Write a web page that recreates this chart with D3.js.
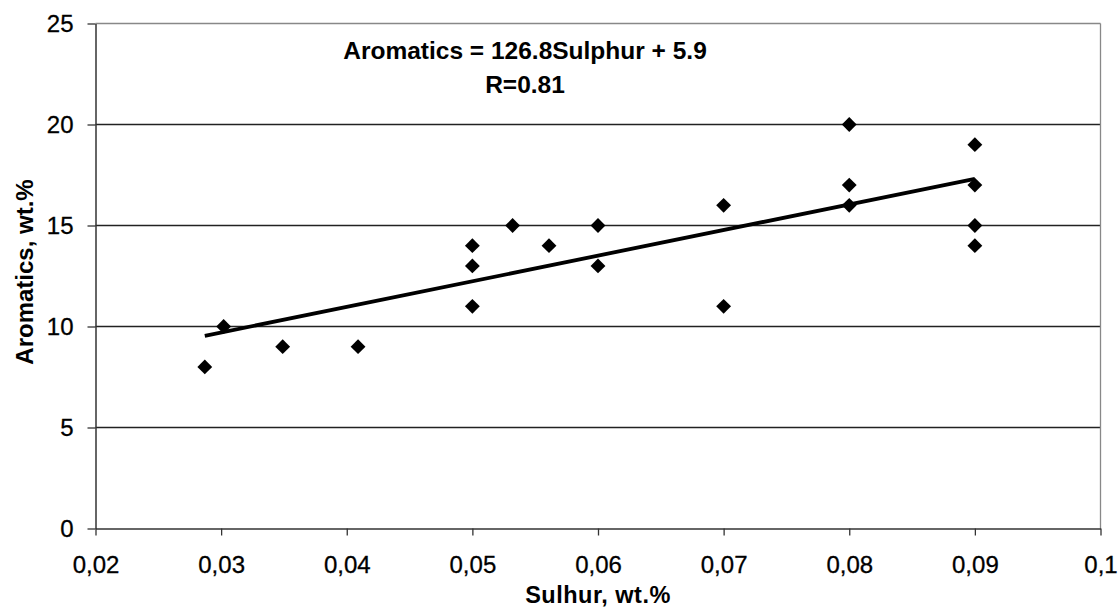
<!DOCTYPE html>
<html><head><meta charset="utf-8">
<script src="https://cdn.jsdelivr.net/npm/d3@7"></script>
<style>body{margin:0;background:#fff;} svg{display:block;font-family:"Liberation Sans",Arial,sans-serif;}</style>
</head><body>
<script>
const sulphur = [0.0287,0.0302,0.0349,0.0409,0.05,0.05,0.05,0.0532,0.0561,0.06,0.06,0.07,0.07,0.08,0.08,0.08,0.09,0.09,0.09,0.09];
const aromatics = [8,10,9,9,14,13,11,15,14,15,13,16,11,20,17,16,19,17,15,14];
const xTicks = [0.02,0.03,0.04,0.05,0.06,0.07,0.08,0.09,0.1];
const yTicks = [0,5,10,15,20,25];
const slope = 126.8, intercept = 5.9;
const trendRange = [0.0287, 0.09];
const equationLines = ["Aromatics = 126.8Sulphur + 5.9", "R=0.81"];

const W = 1119, H = 611;
const svg = d3.select("body").append("svg").attr("width", W).attr("height", H);
const x = d3.scaleLinear().domain([0.02, 0.1]).range([95.5, 1100.5]);
const y = d3.scaleLinear().domain([0, 25]).range([528.5, 23.5]);

// gridlines
svg.append("g").selectAll("line").data(yTicks.filter(d => d > 0)).join("line")
  .attr("x1", x(0.02)).attr("x2", x(0.1)).attr("y1", d => y(d)).attr("y2", d => y(d))
  .attr("stroke", d => d === 25 ? "#888" : "#222").attr("stroke-width", 1.3);
// right border
svg.append("line").attr("x1", x(0.1)).attr("x2", x(0.1)).attr("y1", y(25)).attr("y2", y(0))
  .attr("stroke", "#888").attr("stroke-width", 1.3);

const fmt = d => d3.format(".2~f")(d).replace(".", ",");
const xAxis = svg.append("g").attr("transform", `translate(0,${y(0)})`)
  .call(d3.axisBottom(x).tickValues(xTicks).tickFormat(fmt).tickSizeInner(7).tickSizeOuter(0).tickPadding(20));
const yAxis = svg.append("g").attr("transform", `translate(${x(0.02)},0)`)
  .call(d3.axisLeft(y).tickValues(yTicks).tickSizeInner(8).tickSizeOuter(0).tickPadding(14));
[xAxis, yAxis].forEach(a => {
  a.select(".domain").attr("stroke", "#333").attr("stroke-width", 1.5);
  a.selectAll(".tick line").attr("stroke", "#333").attr("stroke-width", 1.3);
  a.selectAll("text").attr("font-size", 24).attr("fill", "#000")
    .attr("font-family", "Liberation Sans, Arial, sans-serif")
    .attr("stroke", "#000").attr("stroke-width", 0.3);
});
xAxis.selectAll("text").attr("dy", "0.71em");

// trend line
svg.append("line")
  .attr("x1", x(trendRange[0])).attr("y1", y(slope * trendRange[0] + intercept))
  .attr("x2", x(trendRange[1])).attr("y2", y(slope * trendRange[1] + intercept))
  .attr("stroke", "#000").attr("stroke-width", 3.8);

// points
const diamond = d3.symbol().type(d3.symbolSquare).size(110);
svg.append("g").selectAll("path").data(sulphur.map((s, i) => [s, aromatics[i]])).join("path")
  .attr("d", diamond)
  .attr("transform", d => `translate(${x(d[0])},${y(d[1])}) rotate(45)`)
  .attr("fill", "#000");

// equation
svg.append("g").selectAll("text").data(equationLines).join("text")
  .attr("x", 525).attr("y", (d, i) => 59 + i * 34)
  .attr("text-anchor", "middle").attr("font-weight", "bold").attr("font-size", 24.5)
  .text(d => d);

// axis titles
svg.append("text").attr("x", 598).attr("y", 603).attr("text-anchor", "middle")
  .attr("font-weight", "bold").attr("font-size", 23.5).attr("letter-spacing", 0.5).text("Sulhur, wt.%");
svg.append("text").attr("transform", "translate(33,272) rotate(-90)").attr("text-anchor", "middle")
  .attr("font-weight", "bold").attr("font-size", 24).text("Aromatics, wt.%");
</script>
</body></html>
